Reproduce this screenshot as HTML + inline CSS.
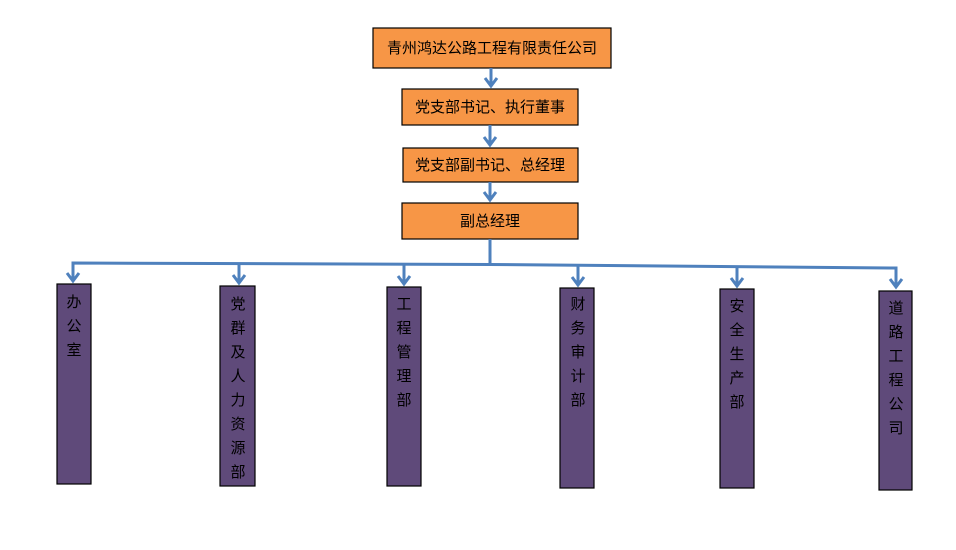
<!DOCTYPE html>
<html><head><meta charset="utf-8"><style>
html,body{margin:0;padding:0;background:#fff;}
svg{display:block;}
text{font-family:"Liberation Sans","Noto Sans CJK SC",sans-serif;font-size:15px;fill:#000;}
</style></head><body>
<svg width="956" height="550" viewBox="0 0 956 550" xmlns="http://www.w3.org/2000/svg">
<defs>
<marker id="ah" markerWidth="10" markerHeight="10" refX="5" refY="8" orient="auto" markerUnits="userSpaceOnUse" viewBox="0 0 10 10">
</marker>
</defs>
<g fill="#f79646" stroke="#000" stroke-width="1.2">
<rect x="373" y="28" width="238" height="40"/>
<rect x="402" y="89" width="176" height="36"/>
<rect x="403" y="148" width="175" height="34"/>
<rect x="402" y="203" width="176" height="36"/>
</g>
<g text-anchor="middle">
<text x="492" y="53">青州鸿达公路工程有限责任公司</text>
<text x="490" y="112">党支部书记、执行董事</text>
<text x="490" y="170">党支部副书记、总经理</text>
<text x="490" y="226">副总经理</text>
</g>
<g stroke="#4f81bd" stroke-width="3" fill="none">
<line x1="491" y1="68" x2="491" y2="86"/>
<polyline points="485,78 491,86 497,78"/>
<line x1="490" y1="125" x2="490" y2="145"/>
<polyline points="484,137 490,145 496,137"/>
<line x1="490" y1="182" x2="490" y2="200"/>
<polyline points="484,192 490,200 496,192"/>
<line x1="490" y1="239" x2="490" y2="265"/>
<polyline points="73,280 73,263 490,264.5 896,268 896,287"/>
<line x1="239" y1="264" x2="239" y2="283"/>
<line x1="404" y1="264" x2="404" y2="284"/>
<line x1="578" y1="265" x2="578" y2="285"/>
<line x1="737" y1="266" x2="737" y2="286"/>
<polyline points="67,273 73,281 79,273"/>
<polyline points="233,275 239,283 245,275"/>
<polyline points="398,276 404,284 410,276"/>
<polyline points="572,277 578,285 584,277"/>
<polyline points="731,278 737,286 743,278"/>
<polyline points="890,279 896,287 902,279"/>
</g>
<g fill="#5f4a7a" stroke="#000" stroke-width="1.2">
<rect x="57" y="284" width="34" height="200"/>
<rect x="220" y="286" width="35" height="200"/>
<rect x="387" y="287" width="34" height="199"/>
<rect x="560" y="288" width="34" height="200"/>
<rect x="720" y="289" width="34" height="199"/>
<rect x="879" y="291" width="33" height="199"/>
</g>
<g text-anchor="middle">
<text x="74" y="307">办</text><text x="74" y="331">公</text><text x="74" y="355">室</text>
<text x="238" y="309">党</text><text x="238" y="333">群</text><text x="238" y="357">及</text><text x="238" y="381">人</text><text x="238" y="405">力</text><text x="238" y="429">资</text><text x="238" y="453">源</text><text x="238" y="477">部</text>
<text x="404" y="309">工</text><text x="404" y="333">程</text><text x="404" y="357">管</text><text x="404" y="381">理</text><text x="404" y="405">部</text>
<text x="578" y="309">财</text><text x="578" y="333">务</text><text x="578" y="357">审</text><text x="578" y="381">计</text><text x="578" y="405">部</text>
<text x="737" y="311">安</text><text x="737" y="335">全</text><text x="737" y="359">生</text><text x="737" y="383">产</text><text x="737" y="407">部</text>
<text x="896" y="313">道</text><text x="896" y="337">路</text><text x="896" y="361">工</text><text x="896" y="385">程</text><text x="896" y="409">公</text><text x="896" y="433">司</text>
</g>
</svg>
</body></html>
